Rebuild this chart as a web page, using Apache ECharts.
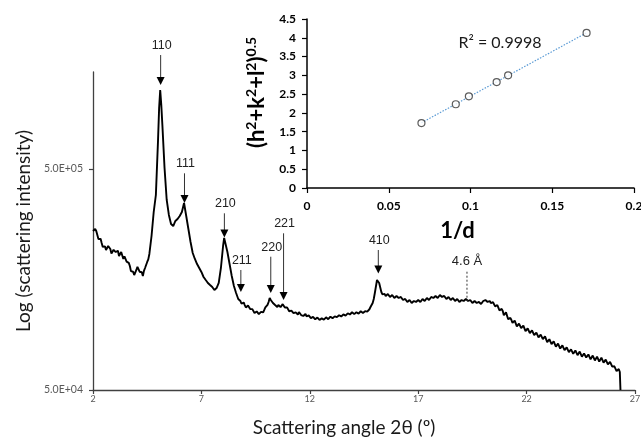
<!DOCTYPE html>
<html>
<head>
<meta charset="utf-8">
<script src="https://cdn.jsdelivr.net/npm/echarts@6/dist/echarts.min.js"></script>
<style>
  html, body { margin: 0; padding: 0; background: #fff; }
  #chart { width: 641px; height: 437px; }
</style>
</head>
<body>
<div id="chart"></div>
<script>
// Diffraction scan: scattering angle 2θ (degrees) and intensity (counts)
const scanAngle = [
  2.0,2.1,2.2,2.3,2.4,2.5,2.6,2.7,2.8,2.9,
  3.0,3.1,3.2,3.3,3.4,3.5,3.6,3.7,3.8,3.9,
  4.0,4.1,4.2,4.3,4.4,4.5,4.6,4.7,4.8,4.9,
  5.0,5.05,5.1,5.15,5.2,5.3,5.4,5.5,5.6,5.7,5.8,5.9,
  6.0,6.1,6.2,6.3,6.4,6.5,6.6,6.7,6.8,6.9,
  7.0,7.1,7.2,7.3,7.4,7.5,7.6,7.7,7.8,7.9,
  8.0,8.05,8.1,8.2,8.3,8.4,8.5,8.6,8.7,8.8,8.9,
  9.0,9.1,9.2,9.3,9.4,9.5,9.6,9.7,9.8,9.9,
  10.0,10.1,10.15,10.2,10.3,10.4,10.5,10.6,10.7,10.8,10.9,
  11.0,11.1,11.2,11.3,11.4,11.5,11.6,11.7,11.8,11.9,
  12.0,12.1,12.2,12.3,12.4,12.5,12.6,12.7,12.8,12.9,
  13.0,13.1,13.2,13.3,13.4,13.5,13.6,13.7,13.8,13.9,
  14.0,14.1,14.2,14.3,14.4,14.5,14.6,14.7,14.8,14.9,
  15.0,15.1,15.15,15.2,15.3,15.4,15.5,15.6,15.7,15.8,15.9,
  16.0,16.1,16.2,16.3,16.4,16.5,16.6,16.7,16.8,16.9,
  17.0,17.1,17.2,17.3,17.4,17.5,17.6,17.7,17.8,17.9,
  18.0,18.1,18.2,18.3,18.4,18.5,18.6,18.7,18.8,18.9,
  19.0,19.1,19.2,19.3,19.4,19.5,19.6,19.7,19.8,19.9,
  20.0,20.1,20.2,20.3,20.4,20.5,20.6,20.7,20.8,20.9,
  21.0,21.1,21.2,21.3,21.4,21.5,21.6,21.7,21.8,21.9,
  22.0,22.1,22.2,22.3,22.4,22.5,22.6,22.7,22.8,22.9,
  23.0,23.1,23.2,23.3,23.4,23.5,23.6,23.7,23.8,23.9,
  24.0,24.1,24.2,24.3,24.4,24.5,24.6,24.7,24.8,24.9,
  25.0,25.1,25.2,25.3,25.4,25.5,25.6,25.7,25.8,25.9,
  26.0,26.1,26.2,26.3,26.33
];
const scanIntensity = [
  262100,267600,251400,238700,231300,221900,215000,224200,217300,206300,
  219600,212800,202000,210600,195800,199900,187800,182000,171000,165700,
  174600,178300,174600,164000,178300,189800,206300,248800,319500,381400,
  676200,944100,1138900,974100,790800,505300,362100,309700,281900,276100,290900,297000,
  306500,319500,350900,306500,267600,233700,208400,195800,185800,178300,
  171000,162300,157300,152500,149300,146200,141700,144700,152500,178300,
  224200,243700,238700,210600,185800,164000,147800,137400,129100,126400,123800,
  121200,118700,120000,115100,113900,111500,112700,110400,112700,115100,
  120000,125100,130400,127700,123800,121200,118700,121200,120000,121200,117500,
  116300,112700,113900,111500,110400,112700,109200,108100,110400,107000,
  108100,105900,107000,104800,105900,103700,105900,104800,107000,104800,
  108100,105900,108100,107000,109200,108100,110400,109200,111500,110400,
  112700,110400,112700,111500,113900,111500,113900,115100,118700,123800,
  137400,157300,160600,152500,138800,136000,133200,136000,131800,134500,130400,
  133200,130400,131800,127700,129100,125100,127700,123800,126400,125100,
  127700,125100,129100,126400,130400,127700,131800,130400,133200,130400,
  134500,131800,133200,129100,131800,127700,130400,126400,129100,125100,
  127700,126400,129100,126400,127700,123800,126400,123800,125100,122500,
  126400,127700,125100,126400,122500,123800,118700,120000,115100,113900,
  109200,110400,104800,103700,100500,101600,97400,98400,95400,96400,
  92500,93400,90600,91500,88700,89600,86900,87800,85100,86000,
  82500,83300,80800,81600,78300,79900,77500,78300,75900,76700,
  74300,75100,73500,74300,72000,73500,71300,72000,70500,71300,
  69100,70500,68400,69800,67600,69100,66900,67600,65600,66300,
  63500,62900,60900,60300,50000
];

// Intermediate readings (half steps) in the noisy stretches of the scan
const scanAngleHalf = [
  2.05,2.15,2.25,2.35,2.45,2.55,2.65,2.75,2.85,2.95,
  3.05,3.15,3.25,3.35,3.45,3.55,3.65,3.75,3.85,3.95,
  4.05,4.15,4.25,4.35,4.45,4.55,
  8.85,8.95,
  9.05,9.15,9.25,9.35,9.45,9.55,9.65,9.75,9.85,9.95,
  10.05,10.25,10.35,10.45,10.55,10.65,10.75,10.85,10.95,
  11.05,11.15,11.25,11.35,11.45,11.55,11.65,11.75,11.85,11.95,
  12.05,12.15,12.25,12.35,12.45,12.55,12.65,12.75,12.85,12.95,
  13.05,13.15,13.25,13.35,13.45,13.55,13.65,13.75,13.85,13.95,
  14.05,14.15,14.25,14.35,14.45,14.55,14.65,14.75,14.85,14.95,
  15.35,15.45,15.55,15.65,15.75,15.85,15.95,
  16.05,16.15,16.25,16.35,16.45,16.55,16.65,16.75,16.85,16.95,
  17.05,17.15,17.25,17.35,17.45,17.55,17.65,17.75,17.85,17.95,
  18.05,18.15,18.25,18.35,18.45,18.55,18.65,18.75,18.85,18.95,
  19.05,19.15,19.25,19.35,19.45,19.55,19.65,19.75,19.85,19.95,
  20.05,20.15,20.25,20.35,20.45,20.55,20.65,20.75,20.85,20.95,
  21.05,21.15,21.25,21.35,21.45,21.55,21.65,21.75,21.85,21.95,
  22.05,22.15,22.25,22.35,22.45,22.55,22.65,22.75,22.85,22.95,
  23.05,23.15,23.25,23.35,23.45,23.55,23.65,23.75,23.85,23.95,
  24.05,24.15,24.25,24.35,24.45,24.55,24.65,24.75,24.85,24.95,
  25.05,25.15,25.25,25.35,25.45,25.55,25.65,25.75,25.85,25.95,
  26.05,26.15,26.25
];
const scanIntensityHalf = [
  257000,262000,241000,241500,222000,223500,213000,226500,207000,215500,
  210500,213500,199000,208500,201500,190500,188000,172500,171500,166500,
  180500,171500,170500,173000,180500,195000,
  122800,124500,
  118200,120600,116300,116100,111600,113400,110300,112800,112200,118300,
  121500,126700,121600,120900,121300,118600,122300,118100,118300,
  113600,114400,111300,112300,109800,111500,107600,109900,107800,108900,
  105800,107100,104400,106400,103700,105500,104100,106600,104600,107300,
  105700,107700,106800,109000,107600,110000,108600,111200,109800,112400,
  110200,112400,110800,113600,111600,113700,113200,116000,120500,129000,
  135500,136200,132000,135800,130700,134900,129800,
  134100,128500,131200,126400,130200,124500,128000,123100,127800,123700,
  128600,124000,129600,125700,131000,126800,132900,129300,134400,129100,
  134900,130400,133500,128000,132400,126900,131200,125600,129600,124800,
  128900,125400,129900,125500,128300,122800,127000,122900,126100,122000,
  128400,126200,127300,123600,124800,119500,121200,114600,116500,108900,
  112300,104500,106000,100700,103100,97000,99900,95300,97700,92300,
  95000,90400,93000,88600,91000,86600,89000,84900,87400,82300,
  84900,80700,82900,78600,81100,77000,79600,75700,77900,74200,
  76300,72900,75500,71900,74600,70800,73100,70200,72400,68800,
  71600,68000,70800,67200,70000,66500,68600,65300,67100,63800,
  64000,60900,62200
];

// Main axes
const angleTicks = [2, 7, 12, 17, 22, 27];
const intensityTicks = [5e4, 5e5];
const intensityMin = 5e4;
const intensityMax = 1.374e6;

// Reflection markers (Miller indices), arrow tip and tail intensities
const peakLabels = ['110', '111', '210', '211', '220', '221', '410'];
const peakAngles = [5.12, 6.22, 8.06, 8.82, 10.20, 10.79, 15.16];
const arrowTip = [1199800, 350900, 244900, 138800, 137400, 127700, 168300];
const arrowTail = [1640000, 478100, 315200, 174600, 200500, 255900, 215000];

// d-spacing marker
const refLabel = '4.6 Å';
const refAngle = 19.25;
const refLow = 126400;
const refHigh = 171500;

// Inset: indexing plot
const invD = [0.070, 0.091, 0.099, 0.116, 0.123, 0.171];
const hklRoot = [1.73, 2.23, 2.44, 2.82, 3.00, 4.13];
const rSquaredText = 'R² = 0.9998';

const lg = Math.log10;

function sciLabel(v) {
  const e = Math.floor(v + 1e-9);
  const m = Math.pow(10, v - e);
  return m.toFixed(1) + 'E+' + String(e).padStart(2, '0');
}

// least-squares trendline through the inset points
function linearFit(xs, ys) {
  const n = xs.length;
  let sx = 0, sy = 0, sxx = 0, sxy = 0;
  for (let i = 0; i < n; i++) { sx += xs[i]; sy += ys[i]; sxx += xs[i] * xs[i]; sxy += xs[i] * ys[i]; }
  const b = (n * sxy - sx * sy) / (n * sxx - sx * sx);
  const a = (sy - b * sx) / n;
  return [a, b];
}
const [fitA, fitB] = linearFit(invD, hklRoot);
const fitX0 = Math.min(...invD), fitX1 = Math.max(...invD);
const trend = [[fitX0, fitA + fitB * fitX0], [fitX1, fitA + fitB * fitX1]];

// merge full and half steps into one ordered scan, plotted as log10(intensity)
const scanData = scanAngle.map((a, i) => [a, lg(scanIntensity[i])])
  .concat(scanAngleHalf.map((a, i) => [a, lg(scanIntensityHalf[i])]))
  .sort((p, q) => p[0] - q[0]);
const peakData = peakAngles.map((a, i) => [a, lg(arrowTip[i]), lg(arrowTail[i])]);

const chart = echarts.init(document.getElementById('chart'), null, { renderer: 'canvas' });

const calibriLike = 'Lato';

chart.setOption({
  animation: false,
  backgroundColor: '#ffffff',
  grid: [
    { left: 93, right: 6, top: 72, bottom: 47, containLabel: false, outerBoundsMode: 'none' },
    { left: 307, right: 7, top: 19, bottom: 249, containLabel: false, outerBoundsMode: 'none' }
  ],
  xAxis: [
    {
      gridIndex: 0, type: 'value', min: 2, max: 27,
      name: 'Scattering angle 2θ (º)', nameLocation: 'middle', nameGap: 28,
      nameTextStyle: { fontFamily: calibriLike, fontSize: 19, color: '#1a1a1a', padding: [0, 40, 0, 0] },
      axisLine: { onZero: false, lineStyle: { color: '#404040', width: 1.3 } },
      axisTick: { show: true, length: 4, customValues: angleTicks, lineStyle: { color: '#404040', width: 1.2 } },
      axisLabel: { customValues: angleTicks, margin: 5, fontFamily: calibriLike, fontSize: 9, color: '#595959' },
      splitLine: { show: false }
    },
    {
      gridIndex: 1, type: 'value', min: 0, max: 0.2, interval: 0.05,
      name: '1/d', nameLocation: 'middle', nameGap: 32,
      nameTextStyle: { fontFamily: calibriLike, fontSize: 22, fontWeight: 'bold', color: '#000', padding: [0, 26, 0, 0] },
      axisLine: { onZero: false, lineStyle: { color: '#000', width: 1.5 } },
      axisTick: { show: true, length: 5, lineStyle: { color: '#000', width: 1.2 } },
      axisLabel: { margin: 12, fontFamily: calibriLike, fontSize: 12, fontWeight: 'bold', color: '#000', showMaxLabel: true, hideOverlap: false },
      splitLine: { show: false }
    }
  ],
  yAxis: [
    {
      gridIndex: 0, type: 'value', min: lg(intensityMin), max: lg(intensityMax),
      name: 'Log (scattering intensity)', nameLocation: 'middle', nameGap: 54,
      nameTextStyle: { fontFamily: calibriLike, fontSize: 19, color: '#1a1a1a' },
      axisLine: { show: true, onZero: false, lineStyle: { color: '#404040', width: 1.3 } },
      axisTick: { show: true, length: 4, customValues: intensityTicks.map(lg), lineStyle: { color: '#404040', width: 1.2 } },
      axisLabel: { customValues: intensityTicks.map(lg), margin: 10, fontFamily: calibriLike, fontSize: 10.5, color: '#595959', formatter: sciLabel },
      splitLine: { show: false }
    },
    {
      gridIndex: 1, type: 'value', min: 0, max: 4.5, interval: 0.5,
      name: '{b|(h}{s|2}{b|+k}{s|2}{b|+l}{s|2}{b|)}{s|0.5}', nameLocation: 'middle', nameGap: 37,
      nameTextStyle: {
        padding: [0, 0, 0, 22],
        rich: {
          b: { fontFamily: calibriLike, fontSize: 22, fontWeight: 'bold', color: '#000', lineHeight: 24, verticalAlign: 'bottom' },
          s: { fontFamily: calibriLike, fontSize: 14, fontWeight: 'bold', color: '#000', lineHeight: 24, verticalAlign: 'top' }
        }
      },
      axisLine: { show: true, onZero: false, lineStyle: { color: '#000', width: 1.5 } },
      axisTick: { show: true, length: 5, lineStyle: { color: '#000', width: 1.2 } },
      axisLabel: { margin: 11, fontFamily: calibriLike, fontSize: 12, fontWeight: 'bold', color: '#000' },
      splitLine: { show: false }
    }
  ],
  series: [
    {
      type: 'line', xAxisIndex: 0, yAxisIndex: 0,
      data: scanData, showSymbol: false, symbol: 'none',
      lineStyle: { color: '#000', width: 1.9 }, z: 3
    },
    {
      type: 'custom', xAxisIndex: 0, yAxisIndex: 0,
      data: peakData, encode: { x: 0, y: 1 }, z: 4,
      renderItem(params, api) {
        const tip = api.coord([api.value(0), api.value(1)]);
        const tail = api.coord([api.value(0), api.value(2)]);
        return {
          type: 'group',
          children: [
            { type: 'line', shape: { x1: tail[0], y1: tail[1], x2: tip[0], y2: tip[1] - 6 },
              style: { stroke: '#333', lineWidth: 1 } },
            { type: 'polygon', shape: { points: [[tip[0] - 4, tip[1] - 8], [tip[0] + 4, tip[1] - 8], [tip[0], tip[1]]] },
              style: { fill: '#000' } },
            { type: 'text', style: { text: peakLabels[params.dataIndex], x: tail[0] + 1, y: tail[1] - 3,
              align: 'center', verticalAlign: 'bottom', font: '12.5px "Liberation Sans", Arial, sans-serif', fill: '#222' } }
          ]
        };
      }
    },
    {
      type: 'custom', xAxisIndex: 0, yAxisIndex: 0,
      data: [[refAngle, lg(refLow), lg(refHigh)]], encode: { x: 0, y: 1 }, z: 4,
      renderItem(params, api) {
        const low = api.coord([api.value(0), api.value(1)]);
        const high = api.coord([api.value(0), api.value(2)]);
        return {
          type: 'group',
          children: [
            { type: 'line', shape: { x1: high[0], y1: high[1], x2: low[0], y2: low[1] },
              style: { stroke: '#333', lineWidth: 1, lineDash: [2, 2] } },
            { type: 'text', style: { text: refLabel, x: high[0], y: high[1] - 4,
              align: 'center', verticalAlign: 'bottom', font: '13px "Liberation Sans", Arial, sans-serif', fill: '#222' } }
          ]
        };
      }
    },
    {
      type: 'line', xAxisIndex: 1, yAxisIndex: 1,
      data: trend, showSymbol: false, symbol: 'none',
      lineStyle: { color: '#5b9bd5', width: 1.2, type: [1.5, 1.5] }, z: 2
    },
    {
      type: 'scatter', xAxisIndex: 1, yAxisIndex: 1,
      data: invD.map((x, i) => [x, hklRoot[i]]),
      symbol: 'circle', symbolSize: 7,
      itemStyle: { color: '#ffffff', borderColor: '#333', borderWidth: 1.2 }, z: 3
    }
  ],
  graphic: [
    { type: 'text', x: 500, y: 43, z: 10,
      style: { text: rSquaredText, align: 'center', verticalAlign: 'middle', font: '16px Lato', fill: '#1a1a1a' } }
  ]
});
</script>
</body>
</html>
